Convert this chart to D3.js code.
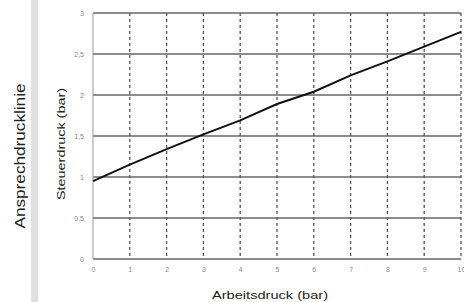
<!DOCTYPE html>
<html>
<head>
<meta charset="utf-8">
<script src="https://cdn.jsdelivr.net/npm/d3@7"></script>
<style>
  html, body { margin: 0; padding: 0; background: #fff; }
  svg { display: block; font-family: "Liberation Sans", Arial, sans-serif; }
</style>
</head>
<body>
<div id="chart"></div>
<script>
// Ansprechdrucklinie: Steuerdruck vs. Arbeitsdruck
const arbeitsdruck = [0, 1, 2, 3, 4, 5, 6, 7, 8, 9, 10];
const steuerdruck = [0.95, 1.15, 1.34, 1.52, 1.69, 1.89, 2.04, 2.24, 2.41, 2.59, 2.77];
const xTicks = [0, 1, 2, 3, 4, 5, 6, 7, 8, 9, 10];
const yTicks = [0, 0.5, 1, 1.5, 2, 2.5, 3];

const WIDTH = 464;
const HEIGHT = 302;
const MARGIN = { top: 13, right: 3, bottom: 43, left: 93 };
const innerW = WIDTH - MARGIN.left - MARGIN.right;
const innerH = HEIGHT - MARGIN.top - MARGIN.bottom;

const svg = d3.select('#chart')
  .append('svg')
  .attr('width', WIDTH)
  .attr('height', HEIGHT);

// side strip and title
svg.append('rect')
  .attr('x', 31).attr('y', 0)
  .attr('width', 7).attr('height', HEIGHT)
  .attr('fill', '#e0e0e0');

svg.append('text')
  .attr('transform', 'translate(25,156) rotate(-90)')
  .attr('text-anchor', 'middle')
  .attr('font-size', '15px')
  .attr('fill', '#222')
  .attr('textLength', 145)
  .attr('lengthAdjust', 'spacingAndGlyphs')
  .text('Ansprechdrucklinie');

const g = svg.append('g')
  .attr('transform', `translate(${MARGIN.left},${MARGIN.top})`);

const x = d3.scaleLinear().domain([0, 10]).range([0, innerW]);
const y = d3.scaleLinear().domain([0, 3]).range([innerH, 0]);

// horizontal grid (solid)
g.selectAll('.hgrid')
  .data(yTicks)
  .join('line')
  .attr('x1', 0)
  .attr('x2', innerW)
  .attr('y1', d => y(d))
  .attr('y2', d => y(d))
  .attr('stroke', '#666')
  .attr('stroke-width', 1.5);

// vertical grid (dashed)
g.selectAll('.vgrid')
  .data(xTicks.slice(1))
  .join('line')
  .attr('x1', d => x(d))
  .attr('x2', d => x(d))
  .attr('y1', 0)
  .attr('y2', innerH)
  .attr('stroke', '#555')
  .attr('stroke-width', 1.3)
  .attr('stroke-dasharray', '3,3');

// left axis line
g.append('line')
  .attr('x1', 0).attr('x2', 0)
  .attr('y1', 0).attr('y2', innerH)
  .attr('stroke', '#999')
  .attr('stroke-width', 1);

// axes labels
const fmt = d => String(d).replace('.', ',');
const yAxis = g.append('g')
  .call(d3.axisLeft(y).tickValues(yTicks).tickFormat(fmt).tickSize(0).tickPadding(9));
yAxis.select('.domain').remove();
yAxis.selectAll('text').attr('fill', '#888').attr('font-size', '7px');

const xAxis = g.append('g')
  .attr('transform', `translate(0,${innerH})`)
  .call(d3.axisBottom(x).tickValues(xTicks).tickFormat(d3.format('d')).tickSize(0).tickPadding(8));
xAxis.select('.domain').remove();
xAxis.selectAll('text').attr('fill', '#888').attr('font-size', '7px');

// data line
const line = d3.line()
  .x((d, i) => x(arbeitsdruck[i]))
  .y(d => y(d));

g.append('path')
  .datum(steuerdruck)
  .attr('d', line)
  .attr('fill', 'none')
  .attr('stroke', '#111')
  .attr('stroke-width', 2);

// axis titles
svg.append('text')
  .attr('transform', 'translate(65,144) rotate(-90)')
  .attr('text-anchor', 'middle')
  .attr('font-size', '11px')
  .attr('fill', '#222')
  .attr('textLength', 112)
  .attr('lengthAdjust', 'spacingAndGlyphs')
  .text('Steuerdruck (bar)');

svg.append('text')
  .attr('x', 270)
  .attr('y', 299)
  .attr('text-anchor', 'middle')
  .attr('font-size', '11px')
  .attr('fill', '#222')
  .attr('textLength', 116)
  .attr('lengthAdjust', 'spacingAndGlyphs')
  .text('Arbeitsdruck (bar)');
</script>
</body>
</html>
